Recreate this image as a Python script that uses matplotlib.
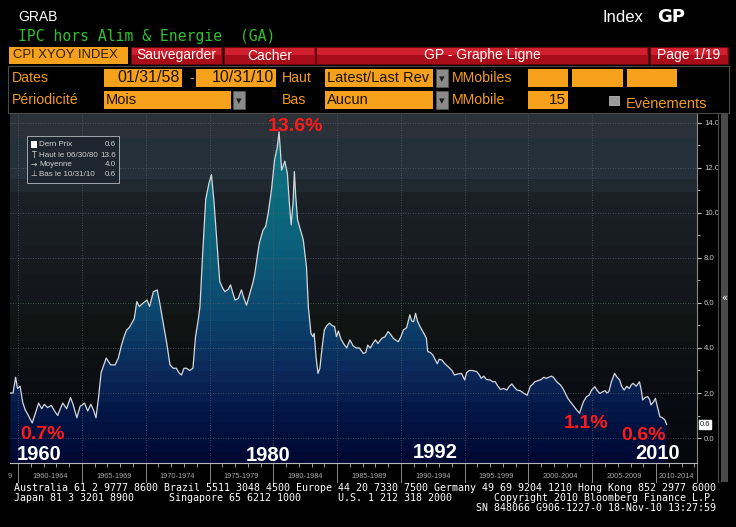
import numpy as np
import matplotlib
matplotlib.use('Agg')
import matplotlib.pyplot as plt
from matplotlib.patches import Rectangle, PathPatch
from matplotlib.colors import to_rgb

# core CPI yoy
years = [1959.40, 1959.60, 1959.80, 1959.95, 1960.15, 1960.35, 1960.55, 1960.80, 1961.10, 1961.35,
         1961.60, 1961.85, 1962.05, 1962.30, 1962.60, 1962.85, 1963.10, 1963.30, 1963.50, 1963.80,
         1964.10, 1964.30, 1964.60, 1964.85, 1965.20, 1965.45, 1965.70, 1965.90, 1966.10, 1966.30,
         1966.50, 1966.90, 1967.25, 1967.60, 1967.85, 1968.10, 1968.30, 1968.50, 1968.70, 1968.90,
         1969.10, 1969.30, 1969.50, 1969.80, 1970.10, 1970.30, 1970.60, 1970.90, 1971.10, 1971.40,
         1971.65, 1971.90, 1972.15, 1972.40, 1972.60, 1972.80, 1973.00, 1973.20, 1973.45, 1973.70,
         1973.90, 1974.10, 1974.25, 1974.45, 1974.70, 1974.95, 1975.15, 1975.35, 1975.55, 1975.80,
         1976.00, 1976.20, 1976.45, 1976.65, 1976.85, 1977.00, 1977.25, 1977.50, 1977.70, 1977.90,
         1978.05, 1978.20, 1978.40, 1978.55, 1978.75, 1978.90, 1979.20, 1979.40, 1979.60, 1979.85,
         1980.10, 1980.30, 1980.45, 1980.55, 1980.65, 1980.90, 1981.10, 1981.25, 1981.40, 1981.55,
         1981.65, 1981.75, 1981.90, 1982.10, 1982.35, 1982.60, 1982.75, 1982.95, 1983.10, 1983.20,
         1983.35, 1983.50, 1983.65, 1983.80, 1984.00, 1984.20, 1984.40, 1984.60, 1984.80, 1984.95,
         1985.10, 1985.30, 1985.50, 1985.75, 1986.00, 1986.25, 1986.50, 1986.75, 1987.05, 1987.25,
         1987.40, 1987.60, 1987.80, 1988.00, 1988.20, 1988.50, 1988.75, 1989.00, 1989.20, 1989.40,
         1989.60, 1989.80, 1990.00, 1990.20, 1990.45, 1990.70, 1990.85, 1991.00, 1991.15, 1991.30,
         1991.50, 1991.75, 1992.00, 1992.10, 1992.30, 1992.50, 1992.85, 1993.00, 1993.20, 1993.45,
         1993.70, 1994.00, 1994.20, 1994.50, 1994.75, 1995.00, 1995.15, 1995.35, 1995.60, 1995.95,
         1996.15, 1996.30, 1996.50, 1996.70, 1997.00, 1997.20, 1997.40, 1997.55, 1997.80, 1998.05,
         1998.30, 1998.50, 1998.70, 1998.90, 1999.10, 1999.35, 1999.60, 1999.90, 2000.15, 2000.35,
         2000.50, 2000.75, 2001.00, 2001.20, 2001.40, 2001.60, 2001.80, 2001.95, 2002.10, 2002.30,
         2002.50, 2002.70, 2002.90, 2003.10, 2003.30, 2003.50, 2003.70, 2003.85, 2004.00, 2004.15,
         2004.30, 2004.55, 2004.75, 2004.95, 2005.20, 2005.40, 2005.60, 2005.80, 2006.00, 2006.15,
         2006.30, 2006.50, 2006.75, 2006.95, 2007.15, 2007.30, 2007.50, 2007.70, 2007.90, 2008.05,
         2008.20, 2008.45, 2008.70, 2008.85, 2008.95, 2009.15, 2009.35, 2009.50, 2009.60, 2009.80,
         2009.95, 2010.10, 2010.30, 2010.50, 2010.70, 2010.83]
values = [2.0, 2.0, 2.7, 2.2, 2.3, 1.6, 1.25, 1.0, 0.67, 1.1,
          1.55, 1.3, 1.5, 1.35, 1.45, 1.2, 1.0, 1.3, 1.55, 1.3,
          1.8, 1.5, 0.9, 1.4, 1.55, 1.2, 1.5, 1.25, 0.9, 1.8,
          2.9, 3.55, 3.25, 3.25, 3.55, 4.13, 4.5, 4.8, 4.9, 5.1,
          5.3, 6.06, 5.84, 6.0, 6.13, 5.84, 6.5, 6.58, 6.0, 5.0,
          4.2, 3.25, 3.1, 3.1, 2.9, 2.8, 3.1, 3.1, 3.0, 3.1,
          4.5, 5.2, 5.84, 8.06, 10.6, 11.3, 11.7, 10.5, 8.95, 6.95,
          6.7, 6.5, 6.6, 6.8, 6.4, 6.13, 6.2, 6.58, 6.2, 5.9,
          6.2, 6.5, 6.9, 7.3, 8.1, 8.65, 9.24, 9.4, 10.0, 11.0,
          12.36, 12.9, 13.6, 12.8, 11.9, 12.3, 11.76, 10.5, 9.47, 10.5,
          11.84, 10.8, 9.7, 9.3, 8.8, 7.6, 5.8, 4.65, 4.5, 4.65,
          3.6, 2.87, 3.1, 3.9, 4.8, 5.0, 5.1, 5.0, 4.95, 4.5,
          4.75, 4.4, 4.2, 4.0, 4.36, 4.1, 4.0, 4.0, 3.76, 3.8,
          4.13, 4.0, 4.2, 4.36, 4.2, 4.43, 4.5, 4.73, 4.6, 4.43,
          4.35, 4.28, 4.5, 4.8, 4.9, 5.47, 5.2, 5.17, 5.54, 5.2,
          4.95, 4.7, 4.43, 3.84, 3.8, 3.69, 3.3, 3.5, 3.47, 3.3,
          3.17, 3.0, 2.8, 2.85, 2.87, 2.58, 2.9, 3.0, 3.0, 2.95,
          2.8, 2.65, 2.75, 2.6, 2.58, 2.5, 2.5, 2.35, 2.16, 2.2,
          2.13, 2.3, 2.4, 2.25, 2.13, 2.1, 2.0, 1.9, 2.3, 2.4,
          2.5, 2.55, 2.6, 2.7, 2.65, 2.7, 2.75, 2.7, 2.58, 2.45,
          2.36, 2.2, 1.98, 1.75, 1.6, 1.45, 1.3, 1.2, 1.1, 1.35,
          1.6, 1.84, 1.9, 2.13, 2.28, 2.1, 1.98, 2.05, 2.1, 2.0,
          2.06, 2.5, 2.87, 2.7, 2.58, 2.3, 2.13, 2.3, 2.2, 2.35,
          2.43, 2.3, 2.5, 2.1, 1.69, 1.8, 1.84, 1.7, 1.47, 1.6,
          1.76, 1.4, 0.95, 0.9, 0.8, 0.6]

period_starts = list(range(1960, 2015, 5))
ytick_vals = [0, 2, 4, 6, 8, 10, 12, 14]
last_value = 0.6

W, H = 736, 527
fig = plt.figure(figsize=(7.36, 5.27), dpi=100, facecolor='black')

SANS = ['Liberation Sans', 'DejaVu Sans']
MONO = ['DejaVu Sans Mono']
ORANGE = '#f5a11c'
ORANGE_TXT = '#f39c1a'


def fx(px):
    return px / W


def fy(py):
    return 1 - py / H


def ftext(px, py, s, **kw):
    kw.setdefault('va', 'center')
    kw.setdefault('family', SANS)
    fig.text(fx(px), fy(py), s, **kw)


def frect(x0, y0, x1, y1, **kw):
    fig.add_artist(Rectangle((fx(x0), fy(y1)), (x1 - x0) / W, (y1 - y0) / H,
                             transform=fig.transFigure, **kw))


# ---- header ----
ftext(18, 17, 'GRAB', color='white', size=10)
ftext(603, 17, 'Index', color='white', size=12)
ftext(657, 17, 'GP', color='white', size=13, weight='bold', family=['DejaVu Sans'])
ftext(18, 37, 'IPC hors Alim & Energie  (GA)', color='#2fc22f', size=10.6, family=MONO)

frect(9, 47, 128, 64, fc=ORANGE, ec='none')
ftext(13, 55.5, 'CPI XYOY INDEX', color='#2a1c08', size=9.4)
buttons = [(131, 222, 'Sauvegarder'), (224, 315, 'Cacher'),
           (316, 648, 'GP - Graphe Ligne'), (650, 728, 'Page 1/19')]
for x0, x1, lab in buttons:
    frect(x0, 47, x1, 64, fc='#a80c18', ec='#6a0810', lw=0.6)
    frect(x0 + 1, 48, x1 - 1, 55, fc='#d0202e', ec='none')
    ftext((x0 + x1) / 2, 55.5, lab, color='white', size=10, ha='center')

frect(8, 66, 729, 113, fc='none', ec='#4a4a4a', lw=0.8)


def obox(x0, y0, x1, y1, txt='', align='left', size=10.5):
    frect(x0, y0, x1, y1, fc=ORANGE, ec='none')
    if txt:
        if align == 'left':
            ftext(x0 + 2, (y0 + y1) / 2, txt, color='#1a1206', size=size)
        else:
            ftext(x1 - 2, (y0 + y1) / 2, txt, color='#1a1206', size=size, ha='right')


def dropdown(x0, y0, x1, y1):
    frect(x0, y0, x1, y1, fc='#8a8a8a', ec='#5a5a5a', lw=0.5)
    ftext((x0 + x1) / 2, (y0 + y1) / 2 + 1, '▾', color='#202020', size=8,
          ha='center', family=['DejaVu Sans'])


LBL = 10.2
ftext(12, 78, 'Dates', color=ORANGE_TXT, size=LBL)
obox(104, 69, 182, 87, '01/31/58', 'right', 11.5)
ftext(189, 78, '-', color=ORANGE_TXT, size=LBL)
obox(196, 69, 276, 87, '10/31/10', 'right', 11.5)
ftext(282, 78, 'Haut', color=ORANGE_TXT, size=LBL)
obox(325, 69, 433, 87, 'Latest/Last Rev')
dropdown(436, 69, 448, 87)
ftext(452, 78, 'MMobiles', color=ORANGE_TXT, size=LBL)
obox(528, 69, 568, 87)
obox(572, 69, 623, 87)
obox(627, 69, 677, 87)

ftext(12, 100, 'Périodicité', color=ORANGE_TXT, size=LBL)
obox(104, 91, 231, 109, 'Mois')
dropdown(233, 91, 245, 109)
ftext(282, 100, 'Bas', color=ORANGE_TXT, size=LBL)
obox(325, 91, 433, 109, 'Aucun')
dropdown(436, 91, 448, 109)
ftext(452, 100, 'MMobile', color=ORANGE_TXT, size=LBL)
obox(528, 91, 568, 109, '15', 'right', 11)
frect(609, 96, 619, 105, fc='#9a9a9a', ec='#cfcfcf', lw=0.5)
ftext(626, 104, 'Evènements', color=ORANGE_TXT, size=10.5)

# ---- chart ----
ax = fig.add_axes([fx(10), fy(463), (697 - 10) / W, (463 - 113) / H])
x0, x1 = 1959.36, 2013.21
y0, y1 = -1.11, 14.44
ax.set_xlim(x0, x1)
ax.set_ylim(y0, y1)
ax.set_facecolor('black')


def banded(anchor_v, anchor_c, step, n=600):
    vs = np.linspace(y0, y1, n)
    centres = y0 + (np.floor((vs - y0) / step) + 0.5) * step
    rgb = np.array([to_rgb(c) for c in anchor_c])
    img = np.stack([np.interp(centres, anchor_v, rgb[:, k]) for k in range(3)], axis=-1)
    return img[:, None, :]


bg_v = [-1.2, 1.5, 3.0, 4.5, 5.5, 6.5, 8.0, 9.5, 11.0, 11.4, 13.4, 13.6, 14.5]
bg_c = ['#05070c', '#090b12', '#0d0f14', '#0f1311', '#111714', '#14181c', '#171b21',
        '#1a1e25', '#1c2128', '#25313a', '#25313a', '#2c3238', '#2c3238']
ax.imshow(banded(bg_v, bg_c, 0.6), extent=[x0, x1, y0, y1], origin='lower',
          aspect='auto', interpolation='nearest', zorder=0)

fill_v = [-1.2, 0, 1.5, 3, 4.5, 6, 8, 10, 12, 14.5]
fill_c = ['#000830', '#000e3c', '#051a4a', '#0a2a5a', '#0b3a66', '#0c4b70',
          '#0c5c78', '#0b687d', '#0f7080', '#1a7884']
poly = ax.fill_between(years, values, y0, color='none', lw=0)
clip = PathPatch(poly.get_paths()[0], transform=ax.transData, fc='none', ec='none')
ax.add_patch(clip)
im = ax.imshow(banded(fill_v, fill_c, 0.45), extent=[x0, x1, y0, y1], origin='lower',
               aspect='auto', interpolation='nearest', zorder=1)
im.set_clip_path(clip)

for v in ytick_vals:
    ax.axhline(v, color='#55606b', lw=0.6, ls=(0, (1, 2)), zorder=2)
for yr in period_starts[:-1]:
    ax.axvline(yr, color='#55606b', lw=0.6, ls=(0, (1, 2)), zorder=2)

ax.plot(years, values, color='#d4d8dc', lw=0.9, zorder=4)

# axes / ticks
for s in ['top', 'left']:
    ax.spines[s].set_visible(False)
ax.spines['bottom'].set_color('#b8b8b8')
ax.spines['right'].set_color('#8a8a8a')
ax.yaxis.tick_right()
ax.set_yticks(ytick_vals)
ax.set_yticklabels([f'{v:.1f}' for v in ytick_vals], family=SANS)
ax.set_yticks(range(1, 14, 2), minor=True)
ax.tick_params(axis='y', which='major', colors='#c8c8c8', labelsize=5.6, length=3,
               width=0.8, pad=2)
ax.tick_params(axis='y', which='minor', colors='#c8c8c8', length=2, width=0.6)
ax.set_xticks([])
ax.set_xticks(range(1960, 2014), minor=True)
ax.tick_params(axis='x', which='minor', colors='#b8b8b8', length=3, width=0.6)

# period labels under the axis
xt = ax.get_xaxis_transform()
for st in period_starts:
    ax.plot([st, st], [0, -0.055], transform=xt, color='#8a8a8a', lw=0.7, clip_on=False)
    lo, hi = max(st, x0), min(st + 5, x1)
    ax.text((lo + hi) / 2, -0.04, f'{st}-{st + 4}', transform=xt, color='#a8a8a8',
            fontsize=5.3, ha='center', va='center', family=SANS)
ax.plot([x1, x1], [0, -0.055], transform=xt, color='#8a8a8a', lw=0.7, clip_on=False)
ax.text(x0, -0.04, '9', transform=xt, color='#a8a8a8', fontsize=5.3,
        ha='center', va='center', family=SANS)

# last price marker on the right scale
ax.text(1.004, last_value, f'{last_value:.1f}', transform=ax.get_yaxis_transform(),
        fontsize=5.5, color='#202020', va='center', ha='left', family=SANS,
        bbox=dict(boxstyle='square,pad=0.15', fc='white', ec='white'), zorder=6)

# legend box
frect(27, 136, 119, 183, fc='#1d262e', ec='#a0a6ac', lw=0.7)
frect(31, 141, 37, 148, fc='white', ec='none')
leg_rows = [(145, '', 'Dern Prix', '0.6'), (155, 'T', 'Haut le 06/30/80', '13.6'),
            (164.5, '→', 'Moyenne', '4.0'), (174, '⊥', 'Bas le 10/31/10', '0.6')]
for yy, sym, lab, val in leg_rows:
    if sym:
        ftext(34, yy, sym, color='#d0d0d0', size=5.5, ha='center', family=['DejaVu Sans'])
    ftext(39, yy, lab, color='#d0d0d0', size=5.8)
    ftext(116, yy, val, color='#d0d0d0', size=5.8, ha='right')

# annotations
red = '#ff1a1a'
ftext(295.5, 126.5, '13.6%', color=red, size=14, ha='center', weight='bold')
ftext(42.5, 434.5, '0.7%', color=red, size=14, ha='center', weight='bold')
ftext(586, 423, '1.1%', color=red, size=14, ha='center', weight='bold')
ftext(643, 435, '0.6%', color=red, size=14, ha='center', weight='bold')
for px, py, lab in [(39.5, 454, '1960'), (268, 455.5, '1980'), (435, 453, '1992'), (658, 453.5, '2010')]:
    ftext(px, py, lab, color='white', size=14.5, ha='center', weight='bold')

# right-hand strip
fig.add_artist(plt.Line2D([fx(718), fx(718)], [fy(113), fy(482)], color='#4a4a4a', lw=0.8))
frect(721, 113, 728, 482, fc='#4a4a4a', ec='none')
ftext(724.5, 298, '«', color='white', size=7, ha='center', family=['DejaVu Sans'])

# footer
ftext(14, 488, 'Australia 61 2 9777 8600 Brazil 5511 3048 4500 Europe 44 20 7330 7500 '
      'Germany 49 69 9204 1210 Hong Kong 852 2977 6000', color='white', size=7.2, family=MONO)
ftext(14, 498, 'Japan 81 3 3201 8900', color='white', size=7.2, family=MONO)
ftext(169, 498, 'Singapore 65 6212 1000', color='white', size=7.2, family=MONO)
ftext(338, 498, 'U.S. 1 212 318 2000', color='white', size=7.2, family=MONO)
ftext(716, 498, 'Copyright 2010 Bloomberg Finance L.P.', color='white', size=7.2,
      family=MONO, ha='right')
ftext(716, 508, 'SN 848066 G906-1227-0 18-Nov-10 13:27:59', color='white', size=7.2,
      family=MONO, ha='right')

fig.savefig('out.png', dpi=100, facecolor='black')
